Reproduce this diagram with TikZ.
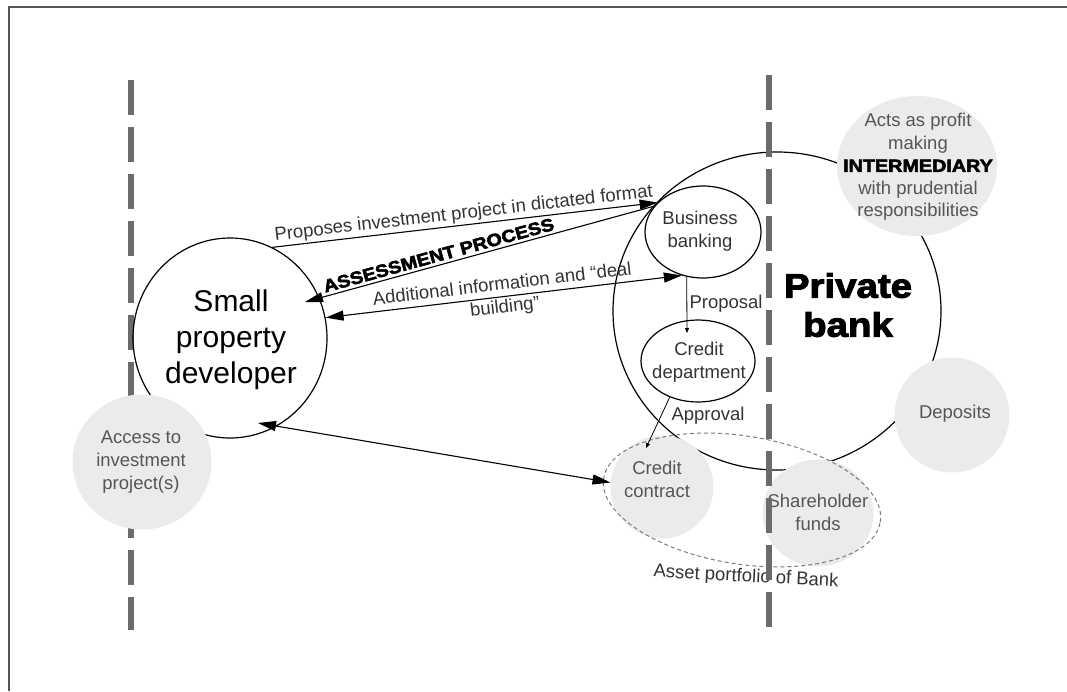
\documentclass[tikz,border=0pt]{standalone}
\usepackage{fontspec}
\setmainfont{Liberation Sans}
\newfontfamily\heavyfont{Liberation Sans}[BoldFeatures={FakeBold=3,FakeStretch=1.13}]
\usetikzlibrary{shapes.geometric,arrows.meta}
\definecolor{discfill}{HTML}{EBEBEB}
\definecolor{ink}{HTML}{333333}
\definecolor{discink}{HTML}{555555}
\definecolor{railgray}{HTML}{6B6B6B}
\definecolor{framegray}{HTML}{555555}
\definecolor{dashgray}{HTML}{7A7A7A}
\begin{document}
\begin{tikzpicture}[x=1pt,y=-1pt,
  >={Triangle[length=18pt,width=10pt]},
  shell/.style={ellipse,draw=black,line width=1.2pt,inner sep=0pt},
  blob/.style={ellipse,fill=discfill,inner sep=0pt},
  rail/.style={draw=railgray,line width=6pt,dash pattern=on 35pt off 12pt},
  link/.style={draw=black,line width=1.1pt},
  smalllink/.style={draw=black,line width=0.8pt,-{Triangle[length=5pt,width=4pt]}},
  note/.style={font=\fontsize{18.5}{23}\selectfont,text=ink,align=center,inner sep=0pt},
  discnote/.style={note,text=discink},
  heavy/.style={font=\heavyfont\bfseries\fontsize{#1}{#1}\selectfont,text=black,inner sep=0pt,align=center}
]
\useasboundingbox (0,0) rectangle (1067,691);

% page frame (top and left edges)
\draw[draw=framegray,line width=1.5pt] (9,691) -- (9,7) -- (1067,7);

% left boundary
\draw[rail] (131,80) -- (131,630);

% outlined actors and departments
\node[shell,minimum width=194pt,minimum height=200pt] (dev) at (230,338) {};
\node[shell,minimum width=328pt,minimum height=318pt] (bank) at (777,311) {};
\node[shell,minimum width=116pt,minimum height=92pt] (bb) at (703,232) {};
\node[shell,minimum width=114pt,minimum height=82pt] (cd) at (698,361) {};

% grey discs
\node[blob,minimum width=139pt,minimum height=135pt] (access) at (142,462) {};
\node[blob,minimum width=103pt,minimum height=103pt] (cc) at (662,487) {};
\node[blob,minimum width=111pt,minimum height=107pt] (share) at (818,513) {};
\node[blob,minimum width=115pt,minimum height=115pt] (dep) at (952,415) {};
\node[blob,minimum width=160pt,minimum height=140pt] (acts) at (917,166) {};

% asset portfolio
\node[ellipse,draw=dashgray,line width=1pt,dash pattern=on 4pt off 3pt,
      minimum width=280pt,minimum height=128pt,rotate=-9,inner sep=0pt] (pf) at (742,500) {};

% arrow ends lying inside shapes
\coordinate (devhead) at (305,302);
\coordinate (devfoot) at (258,423);
\coordinate (propend) at (687,333);
\coordinate (apprend) at (646,448);

% flows between developer and bank
\draw[link,->] (dev.65) -- (bb.147)
  node[midway,sloped,above,note,inner sep=2pt] (proposes) {Proposes investment project in dictated format};
\draw[link,<-] (devhead) -- (bb.152)
  node[pos=0.39,sloped,above,heavy=17.5,inner sep=3pt] (assess) {ASSESSMENT PROCESS};
\draw[link,<->] (dev.12) -- (bb.244)
  node[midway,sloped,note] (addl) {Additional information and “deal\\building”};
\draw[link,<->] (devfoot) -- (cc.175);

% internal bank flow
\draw[smalllink] (bb.250) -- (propend);
\draw[smalllink] (cd.232) -- (apprend);

% texts
\node[note,font=\fontsize{30}{36}\selectfont,text=black] (devtext) at (231,340) {Small\\property\\developer};
\node[discnote] (accesstext) at (141,462) {Access to\\investment\\project(s)};
\node[note] (bbtext) at (700,231) {Business\\banking};
\node[note] (cdtext) at (699,362) {Credit\\department};
\node[note] (proptext) at (726,304) {Proposal};
\node[note] (apptext) at (708,416) {Approval};
\node[discnote] (cctext) at (657,479) {Credit\\contract};
\node[discnote] (sharetext) at (818,512) {Shareholder\\funds};
\node[discnote] (deptext) at (955,414) {Deposits};
\node[discnote,font=\fontsize{18.5}{22.5}\selectfont] (actstext) at (918,167)
  {Acts as profit\\making\\{\heavyfont\bfseries\fontsize{17.5}{22.5}\selectfont\color{black}INTERMEDIARY}\\with prudential\\responsibilities};
\node[note,rotate=-3] (pftext) at (746,577) {Asset portfolio of Bank};
\node[heavy=34,font=\heavyfont\bfseries\fontsize{34}{39}\selectfont] (banktext) at (848,305) {Private\\bank};

% right boundary
\draw[rail] (769,75) -- (769,632);
\end{tikzpicture}
\end{document}
